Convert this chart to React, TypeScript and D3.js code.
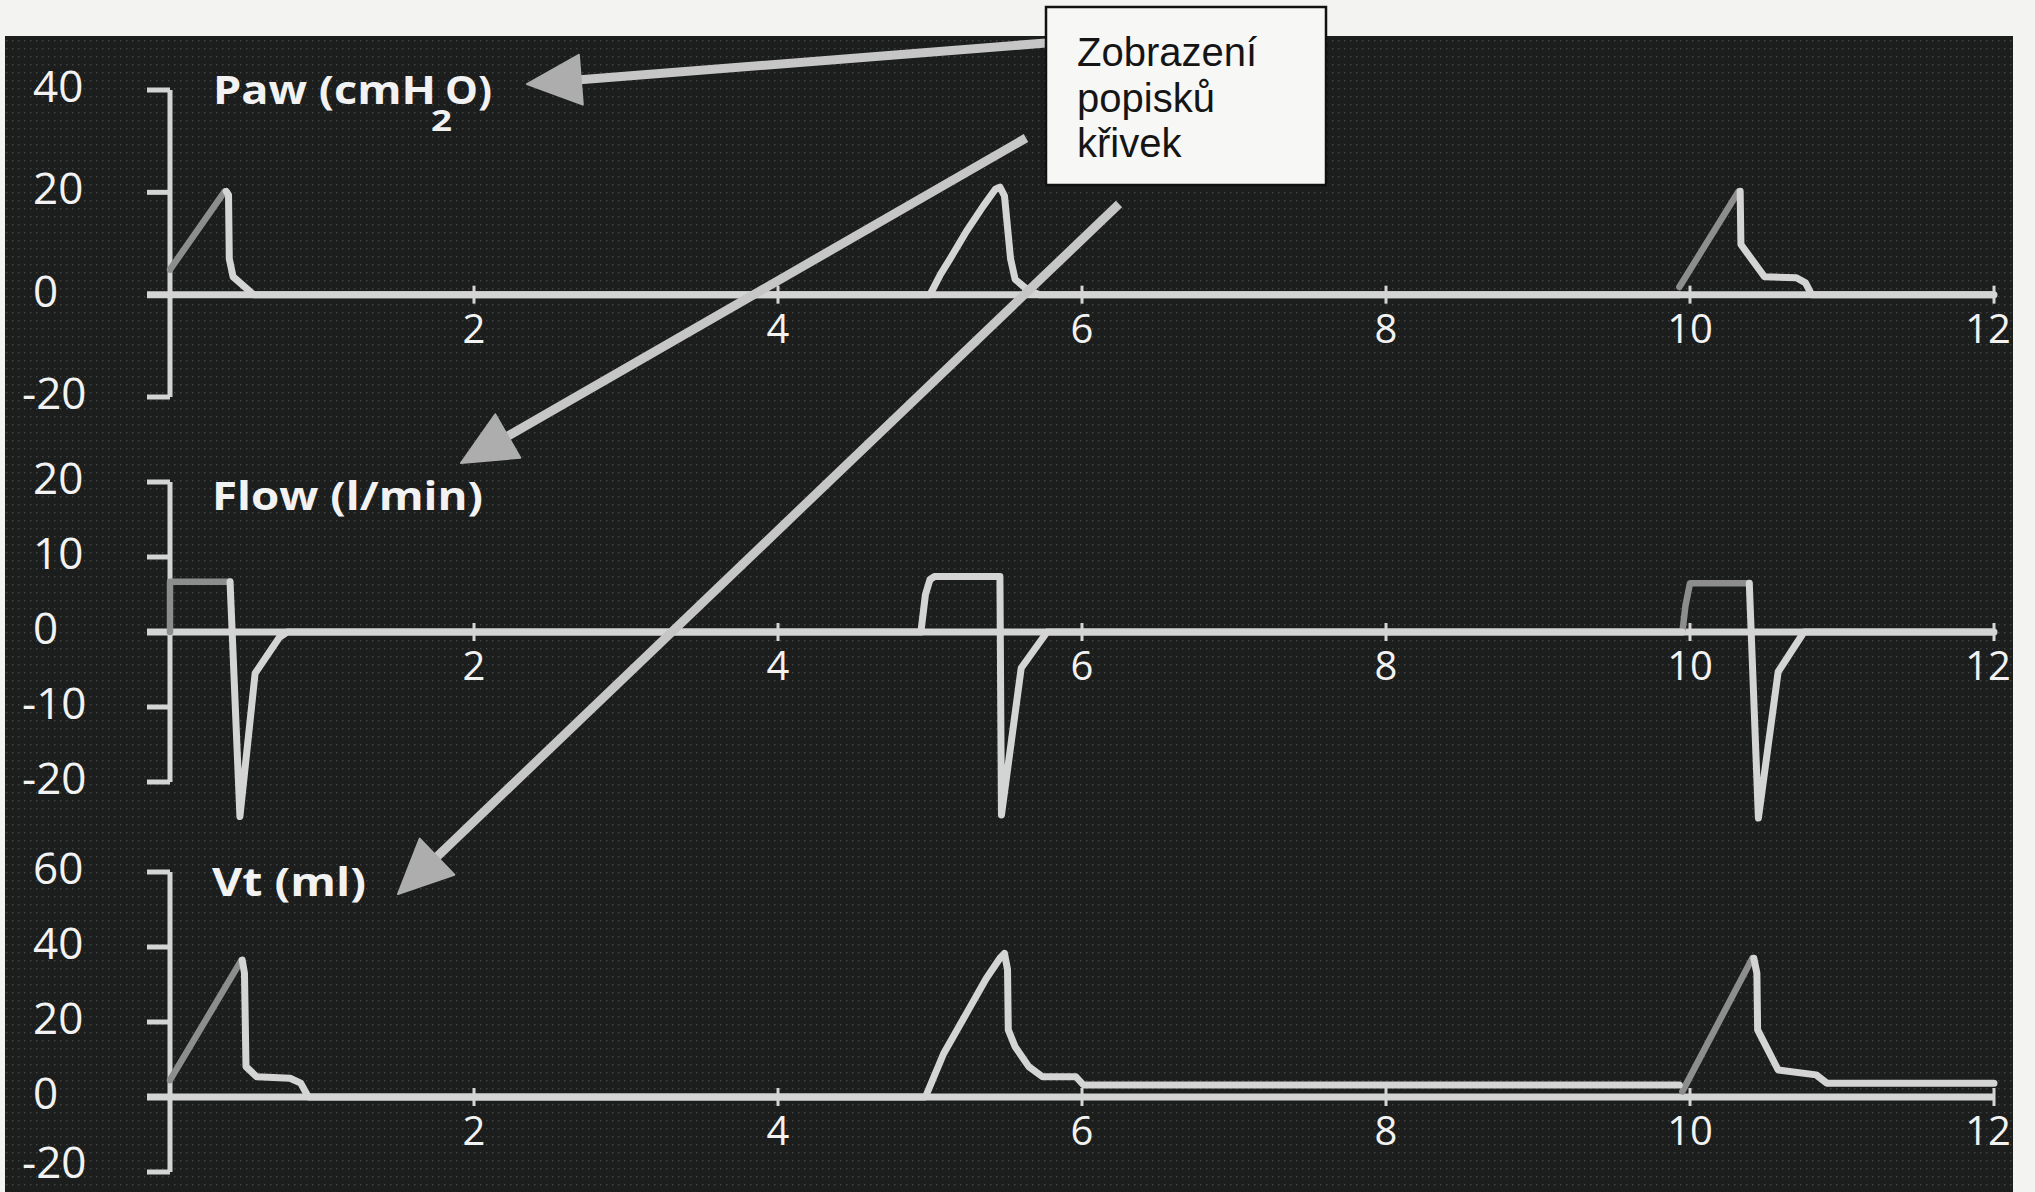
import React from 'react';
import * as d3 from 'd3';

type Pt = [number, number];

// Time axis (s)
const TIME_TICKS = [2, 4, 6, 8, 10, 12];

// Value axes
const PAW_TICKS = [40, 20, 0, -20];
const FLOW_TICKS = [20, 10, 0, -10, -20];
const VT_TICKS = [60, 40, 20, 0, -20];

// Airway pressure Paw (cmH2O): dim inspiratory ramps, bright remainder
const PAW_DIM: Pt[][] = [
  [[0, 4.9], [0.36, 20.2]],
  [[9.93, 1.5], [10.32, 20.2]],
];
const PAW_BRIGHT: Pt[][] = [
  [
    [0.37, 20.2], [0.385, 19.5], [0.39, 7], [0.415, 3.5], [0.55, 0],
    [5.0, 0], [5.07, 4], [5.13, 6.9], [5.24, 12.4], [5.35, 17.3], [5.43, 20.6], [5.46, 21],
    [5.49, 19.3], [5.53, 7], [5.56, 3], [5.64, 1], [5.72, 0], [9.93, 0],
  ],
  [
    [10.33, 20.2], [10.335, 9.8], [10.49, 3.5], [10.7, 3.3], [10.76, 2.3], [10.8, 0], [12, 0],
  ],
];

// Flow (l/min)
const FLOW_DIM: Pt[][] = [
  [[0, 0], [0, 6.7], [0.395, 6.7]],
  [[9.95, 0], [9.97, 3.5], [10.0, 6.5], [10.39, 6.5]],
];
const FLOW_BRIGHT: Pt[][] = [
  [
    [0.395, 6.7], [0.46, -24.6], [0.56, -5.5], [0.72, -0.7], [0.77, 0],
    [4.94, 0], [4.97, 5], [5.0, 7.0], [5.03, 7.4], [5.46, 7.4], [5.47, -24.4], [5.6, -4.8], [5.77, 0],
    [9.95, 0],
  ],
  [[10.39, 6.5], [10.45, -24.8], [10.58, -5.3], [10.75, 0], [12, 0]],
];

// Tidal volume Vt (ml)
const VT_DIM: Pt[][] = [
  [[0, 4.5], [0.47, 36.5]],
  [[9.95, 1.5], [10.41, 37]],
];
const VT_BRIGHT: Pt[][] = [
  [
    [0.475, 36.5], [0.49, 33], [0.5, 8.1], [0.57, 5.4], [0.79, 5], [0.86, 3.7], [0.91, 0],
    [4.97, 0], [5.09, 11.6], [5.24, 22.3], [5.37, 31.6], [5.46, 37], [5.49, 38.3], [5.51, 34],
    [5.515, 17.9], [5.56, 13.4], [5.65, 8.1], [5.74, 5.4], [5.96, 5.4], [6.01, 3.2], [9.93, 3.2],
  ],
  [[10.42, 37], [10.44, 33], [10.445, 17.9], [10.58, 7.2], [10.83, 5.9], [10.9, 3.7], [12, 3.7]],
];

const CALLOUT_LINES = ['Zobrazení', 'popisků', 'křivek'];

const W = 2035;
const H = 1192;
const BG = '#1b1e1d';
const LIGHT = '#d4d4d4';
const DIM = '#8d8d8d';
const TEXT = '#f2f2f2';
const ARROW = '#c6c6c6';

const x = d3.scaleLinear().domain([0, 12]).range([170, 1994]);

type Panel = {
  key: string;
  ticks: number[];
  y: d3.ScaleLinear<number, number>;
  dim: Pt[][];
  bright: Pt[][];
};

const panels: Panel[] = [
  { key: 'paw', ticks: PAW_TICKS, y: d3.scaleLinear().domain([-20, 40]).range([397, 90]), dim: PAW_DIM, bright: PAW_BRIGHT },
  { key: 'flow', ticks: FLOW_TICKS, y: d3.scaleLinear().domain([-20, 20]).range([782, 482]), dim: FLOW_DIM, bright: FLOW_BRIGHT },
  { key: 'vt', ticks: VT_TICKS, y: d3.scaleLinear().domain([-20, 60]).range([1172, 872]), dim: VT_DIM, bright: VT_BRIGHT },
];

// Annotation arrows: from the callout box to each curve label
const ARROWS: { from: Pt; tip: Pt }[] = [
  { from: [1046, 43], tip: [527, 84] },
  { from: [1026, 138], tip: [461, 463] },
  { from: [1119, 204], tip: [398, 894] },
];

function Arrow({ from, tip }: { from: Pt; tip: Pt }) {
  const dx = from[0] - tip[0];
  const dy = from[1] - tip[1];
  const len = Math.hypot(dx, dy);
  const ux = dx / len;
  const uy = dy / len;
  const headLen = 54;
  const half = 25;
  const bx = tip[0] + ux * headLen;
  const by = tip[1] + uy * headLen;
  const px = -uy;
  const py = ux;
  const head = `M${tip[0]},${tip[1]} L${bx + px * half},${by + py * half} L${bx - px * half},${by - py * half} Z`;
  return (
    <g>
      <line x1={from[0]} y1={from[1]} x2={bx - ux * 4} y2={by - uy * 4} stroke={ARROW} strokeWidth={9} />
      <path d={head} fill="#adadad" stroke="#adadad" strokeWidth={2} strokeLinejoin="round" />
    </g>
  );
}

export default function App() {
  const x0 = x(0);
  const x12 = x(12);
  const stub = 23;

  return (
    <svg
      width={W}
      height={H}
      viewBox={`0 0 ${W} ${H}`}
      style={{ position: 'absolute', left: 0, top: 0, display: 'block' }}
    >
      <defs>
        <pattern id="screen" width={6} height={8} patternUnits="userSpaceOnUse">
          <rect x={0} y={0} width={1.4} height={1.4} fill="rgba(210,210,210,0.22)" />
        </pattern>
      </defs>
      <rect x={0} y={0} width={W} height={H} fill="#f3f3f2" />
      <rect x={5} y={36} width={2008} height={H - 36} fill={BG} />
      <rect x={5} y={36} width={2008} height={H - 36} fill="url(#screen)" />

      {panels.map((p) => {
        const y = p.y;
        const y0 = y(0);
        const line = d3
          .line<Pt>()
          .x((d) => x(d[0]))
          .y((d) => y(d[1]));
        const top = y(d3.max(p.ticks) as number);
        const bottom = y(d3.min(p.ticks) as number);
        return (
          <g key={p.key}>
            {/* value axis bracket */}
            <line x1={x0} x2={x0} y1={top} y2={bottom} stroke={LIGHT} strokeWidth={5} />
            {p.ticks.map((t) => (
              <line key={t} x1={x0 - stub} x2={x0} y1={y(t)} y2={y(t)} stroke={LIGHT} strokeWidth={5} />
            ))}
            {/* time axis */}
            <line x1={x0 - stub} x2={x12} y1={y0} y2={y0} stroke={LIGHT} strokeWidth={7} />
            {TIME_TICKS.map((t) => (
              <line key={t} x1={x(t)} x2={x(t)} y1={y0 - 9} y2={y0 + 9} stroke={LIGHT} strokeWidth={3} />
            ))}
            {/* traces */}
            {p.dim.map((seg, i) => (
              <path key={`d${i}`} d={line(seg) || ''} fill="none" stroke={DIM} strokeWidth={6.5}
                strokeLinejoin="round" strokeLinecap="round" />
            ))}
            {p.bright.map((seg, i) => (
              <path key={`b${i}`} d={line(seg) || ''} fill="none" stroke={LIGHT} strokeWidth={7}
                strokeLinejoin="round" strokeLinecap="round" />
            ))}
            {/* value tick labels */}
            {p.ticks.map((t) => (
              <text key={`l${t}`} x={t < 0 ? 22 : 33} y={Math.min(y(t) + 12, 1178)} fill={TEXT}
                fontFamily="'Open Sans', sans-serif" fontSize={44}>
                {t < 0 ? `-${Math.abs(t)}` : `${t}`}
              </text>
            ))}
            {/* time tick labels; the last one is kept inside the panel edge */}
            {TIME_TICKS.map((t, i) => {
              const last = i === TIME_TICKS.length - 1;
              return (
                <text key={`t${t}`} x={last ? 2011 : x(t)} y={y0 + 48} fill={TEXT}
                  textAnchor={last ? 'end' : 'middle'}
                  fontFamily="'Open Sans', sans-serif" fontSize={40}>
                  {t}
                </text>
              );
            })}
          </g>
        );
      })}

      {/* curve labels */}
      <g fill={TEXT} fontFamily="'Open Sans', sans-serif" fontWeight={700} fontSize={40}>
        <text x={213} y={104} textLength={223} lengthAdjust="spacingAndGlyphs">Paw (cmH</text>
        <text x={431} y={131} fontSize={28} textLength={21} lengthAdjust="spacingAndGlyphs">2</text>
        <text x={445} y={104} textLength={47} lengthAdjust="spacingAndGlyphs">O)</text>
        <text x={212} y={510} textLength={271} lengthAdjust="spacingAndGlyphs">Flow (l/min)</text>
        <text x={212} y={896} textLength={154} lengthAdjust="spacingAndGlyphs">Vt (ml)</text>
      </g>

      {ARROWS.map((a, i) => (
        <Arrow key={i} from={a.from} tip={a.tip} />
      ))}

      {/* callout box */}
      <rect x={1046} y={7} width={280} height={178} fill="#f7f7f5" stroke="#111" strokeWidth={2.5} />
      {CALLOUT_LINES.map((s, i) => (
        <text key={s} x={1077} y={66 + i * 45.5} fill="#151515"
          fontFamily="'Liberation Sans', Arial, sans-serif" fontSize={40}>
          {s}
        </text>
      ))}
    </svg>
  );
}
